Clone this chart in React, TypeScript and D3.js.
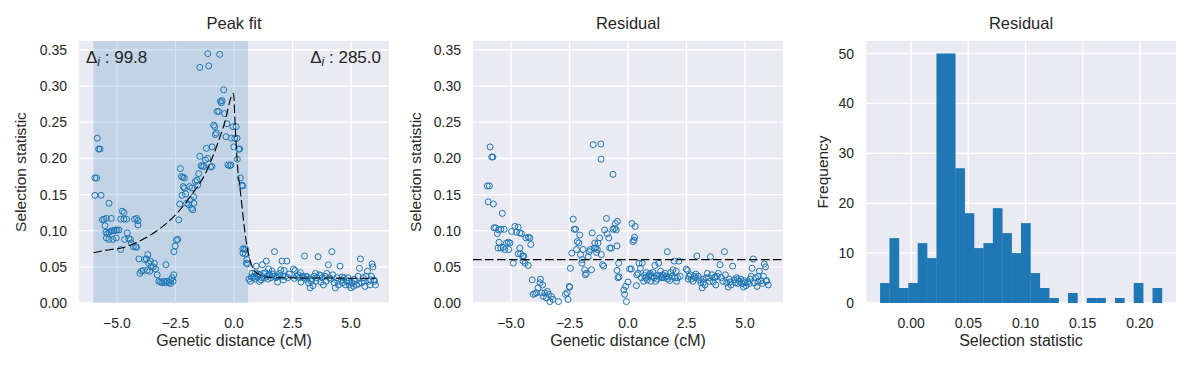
import { useEffect, useRef } from "react";
import * as d3 from "d3";

// genetic distance (cM) vs selection statistic
const peakPoints: [number, number][] = [
  [-5.94, 0.173], [-5.87, 0.173], [-5.94, 0.149], [-5.84, 0.228], [-5.78, 0.213], [-5.72, 0.213],
  [-5.68, 0.149], [-5.34, 0.138], [-5.62, 0.115], [-5.55, 0.116], [-5.45, 0.117], [-5.24, 0.117],
  [-5.51, 0.107], [-5.47, 0.098], [-5.41, 0.096], [-5.34, 0.098], [-5.27, 0.099], [-5.2, 0.1],
  [-5.13, 0.1], [-5.06, 0.101], [-4.99, 0.101], [-4.91, 0.101], [-5.45, 0.09], [-5.34, 0.088],
  [-5.17, 0.088], [-5.03, 0.09], [-4.84, 0.074], [-4.84, 0.116], [-4.77, 0.127], [-4.7, 0.125],
  [-4.7, 0.116], [-4.59, 0.116], [-4.67, 0.088],
  [-4.56, 0.097], [-4.49, 0.089], [-4.42, 0.088], [-4.39, 0.083], [-4.3, 0.078], [-4.2, 0.078],
  [-4.25, 0.116], [-4.16, 0.117], [-4.1, 0.114], [-4.1, 0.108], [-4.16, 0.077], [-4.06, 0.061],
  [-4.02, 0.041], [-3.96, 0.044], [-3.88, 0.045], [-3.82, 0.06], [-3.74, 0.061], [-3.68, 0.067],
  [-3.64, 0.055], [-3.57, 0.058], [-3.54, 0.05], [-3.45, 0.05], [-3.4, 0.055], [-3.35, 0.047],
  [-3.6, 0.044], [-3.71, 0.045], [-3.28, 0.039], [-3.21, 0.03], [-3.14, 0.029], [-3.07, 0.028],
  [-3.0, 0.03], [-2.93, 0.028], [-2.86, 0.03], [-2.78, 0.028], [-2.71, 0.031], [-2.64, 0.035],
  [-2.57, 0.039], [-2.91, 0.053], [-2.71, 0.027], [-2.6, 0.03],
  [-2.57, 0.071], [-2.51, 0.079], [-2.46, 0.087], [-2.4, 0.088], [-2.36, 0.115], [-2.32, 0.137],
  [-2.29, 0.186], [-2.24, 0.175], [-2.19, 0.174], [-2.12, 0.173], [-2.22, 0.149], [-2.17, 0.161],
  [-2.12, 0.159], [-2.07, 0.151], [-2.03, 0.138], [-1.93, 0.136], [-1.86, 0.143], [-1.82, 0.131],
  [-1.76, 0.129], [-1.72, 0.138], [-1.9, 0.161], [-1.8, 0.159], [-1.72, 0.147], [-1.65, 0.168],
  [-1.58, 0.17], [-1.55, 0.163], [-1.51, 0.179], [-1.46, 0.203], [-1.41, 0.19], [-1.35, 0.189],
  [-1.29, 0.189], [-1.22, 0.198], [-1.18, 0.214], [-1.12, 0.2], [-1.0, 0.188], [-0.94, 0.189],
  [-0.94, 0.216], [-0.87, 0.246], [-0.82, 0.244], [-0.8, 0.233], [-0.75, 0.235], [-0.72, 0.265],
  [-1.46, 0.326], [-1.12, 0.345], [-1.08, 0.328], [-0.61, 0.344],
  [-0.65, 0.265], [-0.58, 0.279], [-0.54, 0.277], [-0.51, 0.28], [-0.44, 0.295], [-0.4, 0.262],
  [-0.34, 0.23], [-0.3, 0.248], [-0.26, 0.191], [-0.18, 0.19], [-0.13, 0.191], [-0.11, 0.228],
  [-0.04, 0.244], [0.03, 0.228], [0.09, 0.244], [0.13, 0.228], [-0.01, 0.216], [0.2, 0.213],
  [0.24, 0.213], [0.14, 0.199], [0.27, 0.173], [0.34, 0.163], [0.38, 0.162], [0.38, 0.075],
  [0.45, 0.075], [0.5, 0.074], [0.38, 0.069], [0.48, 0.068], [0.55, 0.06], [0.53, 0.055],
  [0.58, 0.054],
  [0.64, 0.033], [0.7, 0.03], [0.77, 0.041], [0.81, 0.035], [0.87, 0.037], [0.92, 0.042],
  [0.95, 0.051], [1.01, 0.037], [1.08, 0.03], [1.12, 0.039], [1.18, 0.035], [1.21, 0.053],
  [1.26, 0.041], [1.31, 0.035], [1.38, 0.058], [1.41, 0.037], [1.48, 0.047], [1.52, 0.039],
  [1.58, 0.035], [1.63, 0.044], [1.69, 0.037], [1.73, 0.071], [1.79, 0.035], [1.86, 0.029],
  [1.9, 0.037], [1.95, 0.041], [2.0, 0.046], [2.05, 0.058], [2.09, 0.037], [2.14, 0.045],
  [2.2, 0.037], [2.26, 0.058], [2.3, 0.035],
  [2.54, 0.047], [2.61, 0.045], [2.68, 0.037], [2.74, 0.039], [2.8, 0.035], [2.86, 0.029],
  [2.91, 0.037], [2.97, 0.035], [3.01, 0.065], [3.07, 0.037], [3.11, 0.033], [3.18, 0.028],
  [3.25, 0.021], [3.31, 0.03], [3.37, 0.024], [3.42, 0.037], [3.48, 0.041], [3.54, 0.035],
  [3.59, 0.064], [3.65, 0.039], [3.71, 0.029], [3.76, 0.035], [3.82, 0.025], [3.89, 0.037],
  [3.96, 0.041], [4.03, 0.053], [4.08, 0.035],
  [4.18, 0.071], [4.22, 0.039], [4.28, 0.028], [4.33, 0.021], [4.39, 0.035], [4.46, 0.025],
  [4.53, 0.051], [4.59, 0.032], [4.64, 0.028], [4.7, 0.035], [4.76, 0.025], [4.82, 0.03],
  [4.87, 0.035], [4.93, 0.025], [4.99, 0.021], [5.04, 0.028], [5.1, 0.023], [5.17, 0.03],
  [5.24, 0.025], [5.3, 0.037], [5.36, 0.048], [5.4, 0.061], [5.45, 0.028], [5.52, 0.035],
  [5.59, 0.023], [5.64, 0.037], [5.7, 0.044], [5.75, 0.03], [5.81, 0.025], [5.87, 0.037],
  [5.9, 0.054], [5.93, 0.05], [5.98, 0.032], [6.04, 0.025],
  [0.74, 0.036], [0.9, 0.033], [1.05, 0.04], [1.16, 0.032], [1.35, 0.042], [1.45, 0.033],
  [1.66, 0.04], [1.83, 0.036], [2.11, 0.032], [2.36, 0.04], [2.58, 0.034], [2.83, 0.042],
  [3.14, 0.036], [3.29, 0.033], [3.5, 0.03], [3.7, 0.038], [3.93, 0.03], [4.13, 0.033],
  [4.43, 0.03], [4.62, 0.036], [4.9, 0.03], [5.14, 0.033], [5.33, 0.027], [5.56, 0.03],
  [5.84, 0.032], [6.0, 0.03],
];

// fitted peak (dashed)
const fitCurve: [number, number][] = [
  [-6.0, 0.0696], [-5.27, 0.074], [-4.86, 0.0757], [-4.0, 0.0862], [-3.15, 0.1033], [-2.44, 0.124],
  [-1.87, 0.147], [-1.15, 0.184], [-0.94, 0.2], [-0.44, 0.245], [-0.02, 0.29], [0.05, 0.245],
  [0.15, 0.19], [0.27, 0.155], [0.53, 0.083], [0.7, 0.058], [0.84, 0.046], [1.05, 0.04],
  [1.26, 0.036], [2.0, 0.035], [4.0, 0.0345], [6.04, 0.034],
];

const residualPoints: [number, number][] = [
  [-6.01, 0.162], [-5.92, 0.162], [-5.97, 0.14], [-5.89, 0.216], [-5.82, 0.202], [-5.77, 0.202],
  [-5.75, 0.137], [-5.37, 0.124], [-5.72, 0.104], [-5.65, 0.104], [-5.58, 0.096], [-5.53, 0.101],
  [-5.43, 0.102], [-5.29, 0.102], [-5.51, 0.084], [-5.55, 0.076], [-5.43, 0.076], [-5.33, 0.077],
  [-5.26, 0.074], [-5.19, 0.083], [-5.11, 0.084], [-5.04, 0.083], [-5.09, 0.074], [-4.97, 0.099],
  [-4.9, 0.055], [-4.83, 0.106], [-4.76, 0.098], [-4.69, 0.105], [-4.62, 0.097], [-4.69, 0.068],
  [-4.62, 0.076], [-4.55, 0.096], [-4.59, 0.068], [-4.5, 0.065], [-4.45, 0.065], [-4.48, 0.058],
  [-4.4, 0.055], [-4.36, 0.09], [-4.26, 0.091], [-4.19, 0.09], [-4.15, 0.081], [-4.26, 0.052],
  [-4.09, 0.032], [-4.05, 0.012], [-3.98, 0.013], [-3.91, 0.014], [-3.84, 0.021], [-3.76, 0.028],
  [-3.74, 0.033], [-3.69, 0.014], [-3.65, 0.025], [-3.62, 0.009], [-3.55, 0.014], [-3.48, 0.007],
  [-3.44, 0.016], [-3.39, 0.012], [-3.34, 0.002], [-3.27, 0.009], [-3.2, 0.005], [-2.97, 0.002],
  [-2.67, 0.012], [-2.6, 0.014], [-2.56, 0.005], [-2.51, 0.023], [-2.49, 0.022], [-2.46, 0.048],
  [-2.4, 0.069], [-2.34, 0.116], [-2.3, 0.102], [-2.24, 0.102], [-2.2, 0.074], [-2.17, 0.085],
  [-2.1, 0.083], [-2.06, 0.094], [-2.03, 0.067], [-1.97, 0.055], [-1.95, 0.06], [-1.92, 0.074],
  [-1.85, 0.046], [-1.82, 0.039], [-1.78, 0.041], [-1.7, 0.064], [-1.66, 0.071], [-1.61, 0.074],
  [-1.53, 0.097], [-1.56, 0.046], [-1.49, 0.219], [-1.45, 0.076], [-1.42, 0.083], [-1.38, 0.076],
  [-1.35, 0.07], [-1.31, 0.074], [-1.28, 0.083], [-1.21, 0.09], [-1.16, 0.22], [-1.15, 0.199],
  [-1.14, 0.067], [-1.09, 0.053], [-1.04, 0.051], [-1.0, 0.101], [-0.92, 0.117], [-0.89, 0.096],
  [-0.82, 0.09], [-0.78, 0.076], [-0.71, 0.076], [-0.64, 0.178], [-0.64, 0.102], [-0.57, 0.103],
  [-0.54, 0.11], [-0.5, 0.101], [-0.45, 0.113], [-0.47, 0.079], [-0.4, 0.055], [-0.47, 0.045],
  [-0.43, 0.035], [-0.38, 0.036],
  [-0.18, 0.018], [-0.14, 0.012], [-0.1, 0.023], [-0.07, 0.002], [0.0, 0.029], [0.07, 0.047],
  [0.14, 0.047], [0.17, 0.11], [0.21, 0.085], [0.26, 0.087], [0.28, 0.091], [0.31, 0.106],
  [0.36, 0.024], [0.38, 0.039], [0.43, 0.041], [0.47, 0.055], [0.53, 0.048], [0.57, 0.035],
  [0.61, 0.055],
  [0.67, 0.03], [0.71, 0.038], [0.78, 0.042], [0.82, 0.032], [0.88, 0.037], [0.92, 0.039],
  [0.97, 0.03], [1.02, 0.037], [1.07, 0.042], [1.11, 0.035], [1.15, 0.052], [1.21, 0.038],
  [1.25, 0.033], [1.31, 0.055], [1.35, 0.038], [1.39, 0.044], [1.45, 0.035], [1.49, 0.039],
  [1.55, 0.035], [1.59, 0.041], [1.63, 0.037], [1.68, 0.071], [1.73, 0.036], [1.78, 0.031],
  [1.82, 0.042], [1.88, 0.037], [1.92, 0.046], [1.97, 0.058], [2.02, 0.035], [2.06, 0.044],
  [2.12, 0.035], [2.17, 0.058], [2.23, 0.037],
  [2.49, 0.047], [2.54, 0.045], [2.6, 0.037], [2.66, 0.039], [2.71, 0.033], [2.77, 0.03],
  [2.83, 0.037], [2.88, 0.035], [2.94, 0.065], [3.0, 0.037], [3.05, 0.032], [3.11, 0.028],
  [3.17, 0.021], [3.22, 0.028], [3.28, 0.025], [3.34, 0.035], [3.39, 0.041], [3.45, 0.035],
  [3.52, 0.064], [3.58, 0.039], [3.64, 0.029], [3.69, 0.035], [3.75, 0.025], [3.81, 0.037],
  [3.86, 0.041], [3.93, 0.053], [3.99, 0.035],
  [4.12, 0.071], [4.16, 0.039], [4.22, 0.028], [4.28, 0.022], [4.33, 0.033], [4.4, 0.025],
  [4.47, 0.051], [4.53, 0.032], [4.59, 0.028], [4.64, 0.035], [4.7, 0.027], [4.76, 0.03],
  [4.82, 0.033], [4.87, 0.027], [4.93, 0.022], [4.99, 0.028], [5.04, 0.024], [5.11, 0.029],
  [5.18, 0.027], [5.26, 0.037], [5.3, 0.048], [5.35, 0.061], [5.4, 0.028], [5.45, 0.035],
  [5.51, 0.023], [5.57, 0.037], [5.61, 0.044], [5.68, 0.031], [5.74, 0.027], [5.78, 0.037],
  [5.82, 0.054], [5.87, 0.05], [5.92, 0.031], [5.99, 0.025],
  [0.75, 0.035], [0.95, 0.041], [1.18, 0.03], [1.42, 0.036], [1.7, 0.033], [2.08, 0.03],
  [2.57, 0.033], [2.9, 0.04], [3.2, 0.033], [3.48, 0.03], [3.72, 0.036], [4.05, 0.03],
  [4.36, 0.029], [4.68, 0.033], [4.96, 0.031], [5.22, 0.033], [5.55, 0.029], [5.9, 0.03],
];

const residualLevel = 0.06;
const peakSpan: [number, number] = [-6.0, 0.6];
const deltaLeft = "99.8";
const deltaRight = "285.0";

// histogram of residual selection statistic
const histCounts = [4, 13, 3, 4, 12, 9, 50, 50, 27, 18, 11, 12, 19, 14, 10, 16, 6, 3, 1, 0, 2, 0, 1, 1, 0, 1, 0, 4, 0, 3];
const histRange: [number, number] = [-0.0271, 0.2192];

const distTicks = [-5, -2.5, 0, 2.5, 5];
const statTicks = [0, 0.05, 0.1, 0.15, 0.2, 0.25, 0.3, 0.35];
const histXTicks = [0, 0.05, 0.1, 0.15, 0.2];
const freqTicks = [0, 10, 20, 30, 40, 50];

const W = 1191;
const H = 368;
const TOP = 41;
const BOTTOM = 303;
const BLUE = "#1f77b4";
const INK = "#262626";
const FONT = "'Liberation Sans', Arial, sans-serif";

const fmtMinus = (s: string) => s.replace("-", "\u2212");

export default function App() {
  const svgRef = useRef<SVGSVGElement | null>(null);

  useEffect(() => {
    if (!svgRef.current) return;
    const svg = d3.select(svgRef.current);
    svg.selectAll("*").remove();
    svg.attr("width", W).attr("height", H).attr("viewBox", `0 0 ${W} ${H}`);

    const y = d3.scaleLinear().domain([0, 0.3625]).range([BOTTOM, TOP]);

    const frame = (
      left: number,
      right: number,
      x: d3.ScaleLinear<number, number>,
      yy: d3.ScaleLinear<number, number>,
      xTicks: number[],
      yTicks: number[],
      xFmt: (v: number) => string,
      yFmt: (v: number) => string,
      title: string,
      xLabel: string,
      yLabel: string,
      yLabelOffset: number
    ) => {
      const g = svg.append("g");
      g.append("rect")
        .attr("x", left)
        .attr("y", TOP)
        .attr("width", right - left)
        .attr("height", BOTTOM - TOP)
        .attr("fill", "#eaeaf2");
      g.selectAll("line.gx")
        .data(xTicks)
        .join("line")
        .attr("x1", (d) => x(d))
        .attr("x2", (d) => x(d))
        .attr("y1", TOP)
        .attr("y2", BOTTOM)
        .attr("stroke", "#fff")
        .attr("stroke-width", 1.4);
      g.selectAll("line.gy")
        .data(yTicks)
        .join("line")
        .attr("x1", left)
        .attr("x2", right)
        .attr("y1", (d) => yy(d))
        .attr("y2", (d) => yy(d))
        .attr("stroke", "#fff")
        .attr("stroke-width", 1.4);

      const txt = svg.append("g").attr("font-family", FONT).attr("fill", INK);
      txt.selectAll("text.xt")
        .data(xTicks)
        .join("text")
        .attr("x", (d) => x(d))
        .attr("y", 328)
        .attr("text-anchor", "middle")
        .attr("font-size", 14)
        .text((d) => xFmt(d));
      txt.selectAll("text.yt")
        .data(yTicks)
        .join("text")
        .attr("x", left - 12)
        .attr("y", (d) => yy(d))
        .attr("dy", "0.36em")
        .attr("text-anchor", "end")
        .attr("font-size", 14)
        .text((d) => yFmt(d));
      txt.append("text")
        .attr("x", (left + right) / 2)
        .attr("y", 29)
        .attr("text-anchor", "middle")
        .attr("font-size", 16.5)
        .text(title);
      txt.append("text")
        .attr("x", (left + right) / 2)
        .attr("y", 346)
        .attr("text-anchor", "middle")
        .attr("font-size", 16)
        .text(xLabel);
      txt.append("text")
        .attr("transform", `translate(${left - yLabelOffset},${(TOP + BOTTOM) / 2}) rotate(-90)`)
        .attr("text-anchor", "middle")
        .attr("font-size", 15.5)
        .text(yLabel);
      return g;
    };

    const distFmt = (v: number) => fmtMinus(d3.format(".1f")(v));
    const statFmt = d3.format(".2f");

    // --- panel 1: peak fit
    const x1 = d3.scaleLinear().domain([-6.62, 6.62]).range([79, 389]);
    const g1 = frame(79, 389, x1, y, distTicks, statTicks, distFmt, statFmt, "Peak fit", "Genetic distance (cM)", "Selection statistic", 53.5);
    g1.append("rect")
      .attr("x", x1(peakSpan[0]))
      .attr("y", TOP)
      .attr("width", x1(peakSpan[1]) - x1(peakSpan[0]))
      .attr("height", BOTTOM - TOP)
      .attr("fill", BLUE)
      .attr("fill-opacity", 0.2);
    g1.append("g")
      .selectAll("circle")
      .data(peakPoints)
      .join("circle")
      .attr("cx", (d) => x1(d[0]))
      .attr("cy", (d) => y(d[1]))
      .attr("r", 3)
      .attr("fill", "none")
      .attr("stroke", BLUE)
      .attr("stroke-width", 1);
    const fitLine = d3
      .line<[number, number]>()
      .x((d) => x1(d[0]))
      .y((d) => y(d[1]))
      .curve(d3.curveMonotoneX);
    g1.append("path")
      .attr("d", fitLine(fitCurve) ?? "")
      .attr("fill", "none")
      .attr("stroke", "#000")
      .attr("stroke-width", 1.1)
      .attr("stroke-dasharray", "8.5,3.5");

    const delta = (xPos: number, anchor: string, value: string) => {
      const t = g1.append("text")
        .attr("x", xPos)
        .attr("y", 63)
        .attr("text-anchor", anchor)
        .attr("font-family", FONT)
        .attr("font-size", 17)
        .attr("fill", INK);
      t.append("tspan").text("\u0394");
      t.append("tspan").attr("font-style", "italic").attr("font-size", 12).attr("dy", 3).text("i");
      t.append("tspan").attr("dy", -3).text(` : ${value}`);
    };
    delta(86, "start", deltaLeft);
    delta(381, "end", deltaRight);

    // --- panel 2: residual scatter
    const x2 = d3.scaleLinear().domain([-6.62, 6.62]).range([473, 783]);
    const g2 = frame(473, 783, x2, y, distTicks, statTicks, distFmt, statFmt, "Residual", "Genetic distance (cM)", "Selection statistic", 52.5);
    g2.append("g")
      .selectAll("circle")
      .data(residualPoints)
      .join("circle")
      .attr("cx", (d) => x2(d[0]))
      .attr("cy", (d) => y(d[1]))
      .attr("r", 3)
      .attr("fill", "none")
      .attr("stroke", BLUE)
      .attr("stroke-width", 1);
    g2.append("line")
      .attr("x1", 473)
      .attr("x2", 783)
      .attr("y1", y(residualLevel))
      .attr("y2", y(residualLevel))
      .attr("stroke", "#000")
      .attr("stroke-width", 1.1)
      .attr("stroke-dasharray", "8.5,3.5");

    // --- panel 3: histogram
    const binW = (histRange[1] - histRange[0]) / histCounts.length;
    const pad = (histRange[1] - histRange[0]) * 0.05;
    const x3 = d3.scaleLinear().domain([histRange[0] - pad, histRange[1] + pad]).range([866, 1176]);
    const y3 = d3.scaleLinear().domain([0, 52.5]).range([BOTTOM, TOP]);
    const g3 = frame(866, 1176, x3, y3, histXTicks, freqTicks, statFmt, (v) => String(v), "Residual", "Selection statistic", "Frequency", 38);
    g3.append("g")
      .selectAll("rect")
      .data(histCounts)
      .join("rect")
      .attr("x", (_, i) => x3(histRange[0] + i * binW))
      .attr("width", x3(histRange[0] + binW) - x3(histRange[0]) + 0.3)
      .attr("y", (d) => y3(d))
      .attr("height", (d) => BOTTOM - y3(d))
      .attr("fill", BLUE);
  }, []);

  return (
    <div style={{ position: "absolute", left: 0, top: 0, background: "#fff" }}>
      <svg ref={svgRef} style={{ display: "block" }} />
    </div>
  );
}
